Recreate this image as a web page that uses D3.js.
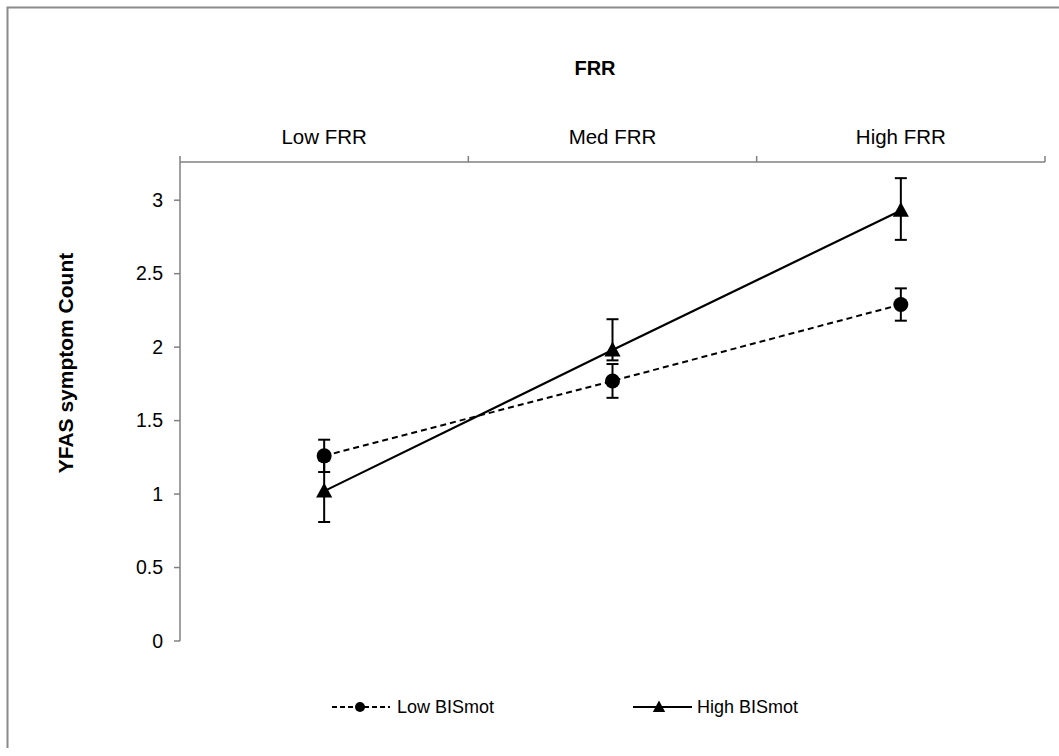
<!DOCTYPE html>
<html><head><meta charset="utf-8">
<script src="https://cdn.jsdelivr.net/npm/d3@7"></script>
<style>body{margin:0;background:#fff;} text{font-family:"Liberation Sans",Arial,sans-serif;}</style>
</head><body>
<script>
const categories = ["Low FRR", "Med FRR", "High FRR"];
const lowBISmot = [1.26, 1.77, 2.29];
const lowErr = [0.11, 0.115, 0.11];
const highBISmot = [1.02, 1.98, 2.93];
const highErrPlus = [0.21, 0.21, 0.22];
const highErrMinus = [0.21, 0.07, 0.20];
const yTicks = [0, 0.5, 1, 1.5, 2, 2.5, 3];
const seriesNames = ["Low BISmot", "High BISmot"];

const W = 1059, H = 756;
const svg = d3.select("body").append("svg").attr("width", W).attr("height", H);
const axisColor = "#808080";

// chart border (top & left visible)
svg.append("path").attr("d", "M7.5,748 V7.5 H1059").attr("fill", "none").attr("stroke", "#8a8a8a").attr("stroke-width", 2);

const x = d3.scaleBand().domain(categories).range([180, 1045]).padding(0);
const y = d3.scaleLinear().domain([0, 3.26]).range([641, 162]);

// top category axis
const gx = svg.append("g").attr("transform", "translate(0,162)");
gx.append("line").attr("x1", 180).attr("x2", 1045).attr("stroke", axisColor).attr("stroke-width", 1.5);
const bounds = categories.map(c => x(c)).concat([x.range()[1]]);
gx.selectAll("line.tk").data(bounds).join("line").attr("class", "tk")
  .attr("x1", d => d).attr("x2", d => d).attr("y1", 0).attr("y2", -6)
  .attr("stroke", axisColor).attr("stroke-width", 1.5);
gx.selectAll("text").data(categories).join("text")
  .attr("x", d => x(d) + x.bandwidth() / 2).attr("y", -18)
  .attr("text-anchor", "middle").attr("font-size", 20.5).attr("fill", "#000").text(d => d);

svg.append("text").attr("x", 595).attr("y", 75).attr("text-anchor", "middle")
  .attr("font-size", 20).attr("font-weight", "bold").text("FRR");

// y axis
const gy = svg.append("g").attr("transform", "translate(180,0)");
gy.append("line").attr("y1", 162).attr("y2", 641).attr("stroke", axisColor).attr("stroke-width", 1.5);
gy.selectAll("line.tk").data(yTicks).join("line").attr("class", "tk")
  .attr("x1", -6).attr("x2", 0).attr("y1", d => y(d)).attr("y2", d => y(d))
  .attr("stroke", axisColor).attr("stroke-width", 1.5);
gy.selectAll("text").data(yTicks).join("text")
  .attr("x", -17).attr("y", d => y(d)).attr("dy", "0.35em")
  .attr("text-anchor", "end").attr("font-size", 19.5).text(d => d);

svg.append("text").attr("transform", "translate(73,363) rotate(-90)")
  .attr("text-anchor", "middle").attr("font-size", 21).attr("font-weight", "bold")
  .text("YFAS symptom Count");

const cx = c => x(c) + x.bandwidth() / 2;
const line = d3.line().x((d, i) => cx(categories[i])).y(d => y(d));

// lines
svg.append("path").datum(lowBISmot).attr("d", line).attr("fill", "none")
  .attr("stroke", "#000").attr("stroke-width", 2).attr("stroke-dasharray", "6,4");
svg.append("path").datum(highBISmot).attr("d", line).attr("fill", "none")
  .attr("stroke", "#000").attr("stroke-width", 2.2);

// error bars
function errBars(vals, plus, minus) {
  const g = svg.append("g").attr("stroke", "#000").attr("stroke-width", 2);
  vals.forEach((v, i) => {
    const X = cx(categories[i]);
    const top = y(v + plus[i]), bot = y(v - minus[i]);
    g.append("line").attr("x1", X).attr("x2", X).attr("y1", top).attr("y2", bot);
    g.append("line").attr("x1", X - 6).attr("x2", X + 6).attr("y1", top).attr("y2", top);
    g.append("line").attr("x1", X - 6).attr("x2", X + 6).attr("y1", bot).attr("y2", bot);
  });
}
errBars(lowBISmot, lowErr, lowErr);
errBars(highBISmot, highErrPlus, highErrMinus);

// markers
const tri = (X, Y, s) => `M${X},${Y - s} L${X + s * 0.95},${Y + s * 0.75} L${X - s * 0.95},${Y + s * 0.75} Z`;
svg.selectAll("circle.m").data(lowBISmot).join("circle").attr("class", "m")
  .attr("cx", (d, i) => cx(categories[i])).attr("cy", d => y(d)).attr("r", 7.5).attr("fill", "#000");
svg.selectAll("path.t").data(highBISmot).join("path").attr("class", "t")
  .attr("d", (d, i) => tri(cx(categories[i]), y(d), 8.5)).attr("fill", "#000");

// legend
const ly = 707;
svg.append("line").attr("x1", 332).attr("x2", 390).attr("y1", ly).attr("y2", ly)
  .attr("stroke", "#000").attr("stroke-width", 2).attr("stroke-dasharray", "5,3");
svg.append("circle").attr("cx", 360).attr("cy", ly).attr("r", 5).attr("fill", "#000");
svg.append("text").attr("x", 397).attr("y", 713).attr("font-size", 18).text(seriesNames[0]);
svg.append("line").attr("x1", 633).attr("x2", 692).attr("y1", ly).attr("y2", ly)
  .attr("stroke", "#000").attr("stroke-width", 2);
svg.append("path").attr("d", tri(659, ly, 6.5)).attr("fill", "#000");
svg.append("text").attr("x", 697).attr("y", 713).attr("font-size", 18).text(seriesNames[1]);
</script>
</body></html>
